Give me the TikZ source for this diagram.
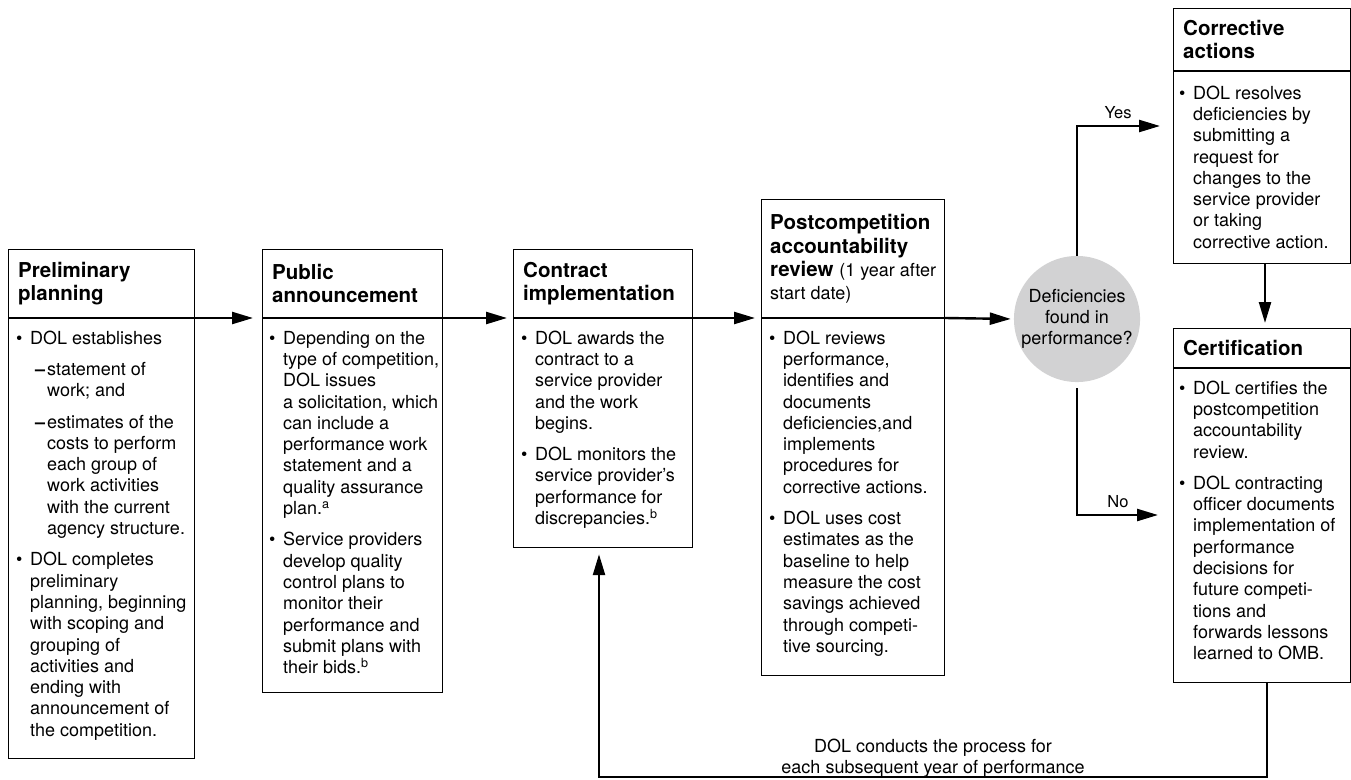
\documentclass[tikz,border=0pt]{standalone}
\usepackage{fontspec}
\setmainfont{TeX Gyre Heros}
\usetikzlibrary{arrows.meta}
\newcommand{\bfs}{\fontsize{18}{21.3}\selectfont}
\newcommand{\tfs}{\fontsize{20.5}{23.3}\selectfont}
\newcommand{\lfs}{\fontsize{16.5}{19}\selectfont}
\newcommand{\bul}{\strut\makebox[14pt][l]{\textbullet}}
\newcommand{\ind}{\hspace*{14pt}}
\newcommand{\dsh}{\hspace*{19pt}\makebox[12pt][l]{\textbf{–}}}
\newcommand{\dind}{\hspace*{31pt}}
\definecolor{circfill}{RGB}{210,210,211}
\tikzset{
 boxst/.style={draw, line width=1.2pt, anchor=north west, inner sep=0pt},
 ttl/.style={anchor=west, align=left, inner sep=0pt, font=\tfs\bfseries},
 body/.style={anchor=north west, align=left, inner sep=0pt, font=\bfs},
 septhick/.style={line width=2.4pt},
 septhin/.style={line width=1.6pt},
 conn/.style={line width=2.4pt, -{Triangle[length=21pt,width=12pt]}},
 lbl/.style={font=\lfs, inner sep=0pt}
}
\begin{document}
\begin{tikzpicture}[x=1pt,y=-1pt]
\useasboundingbox (0,0) rectangle (1351,779);
\coordinate (ml) at (0,318);
\coordinate (yes) at (0,126);
\coordinate (no) at (0,515);
\coordinate (dn) at (1265,0);
\coordinate (fbx) at (1267,0);
\coordinate (bot) at (0,777);
\coordinate (upx) at (599,0);

% boxes
\node[boxst, minimum width=186pt, minimum height=509pt] (b1) at (8,249) {};
\node[boxst, minimum width=180pt, minimum height=443pt] (b2) at (262,249) {};
\node[boxst, minimum width=179pt, minimum height=298pt] (b3) at (513,249) {};
\node[boxst, minimum width=183pt, minimum height=476pt] (b4) at (761,199) {};
\node[boxst, minimum width=177pt, minimum height=255pt] (c5) at (1173,8) {};
\node[boxst, minimum width=177pt, minimum height=354pt] (c6) at (1173,328) {};

% separators
\draw[septhick] (b1.west |- ml) -- (b1.east |- ml);
\draw[septhick] (b2.west |- ml) -- (b2.east |- ml);
\draw[septhick] (b3.west |- ml) -- (b3.east |- ml);
\draw[septhick] (b4.west |- ml) -- (b4.east |- ml);
\coordinate (s5) at (0,71);
\coordinate (s6) at (0,368);
\draw[septhin] (c5.west |- s5) -- (c5.east |- s5);
\draw[septhin] (c6.west |- s6) -- (c6.east |- s6);

% titles
\node[ttl] (t1) at (18,283.5) {Preliminary\\planning};
\node[ttl] (t2) at (272,283.5) {Public\\announcement};
\node[ttl] (t3) at (523,283.5) {Contract\\implementation};
\node[ttl] (t4) at (770,259) {Postcompetition\\accountability\\review {\mdseries\bfs(1 year after}\\{\mdseries\bfs start date)}};
\node[ttl] (t5) at (1183,39.5) {Corrective\\actions};
\node[ttl] (t6) at (1183,348) {Certification};

% bodies
\node[body] (x1) at (16,329) {\bul DOL establishes\\[10pt]
\dsh statement of\\
\dind work; and\\[10pt]
\dsh estimates of the\\
\dind costs to perform\\
\dind each group of\\
\dind work activities\\
\dind with the current\\
\dind agency structure.\\[10pt]
\bul DOL completes\\
\ind preliminary\\
\ind planning, beginning\\
\ind with scoping and\\
\ind grouping of\\
\ind activities and\\
\ind ending with\\
\ind announcement of\\
\ind the competition.};

\node[body] (x2) at (269,329) {\bul Depending on the\\
\ind type of competition,\\
\ind DOL issues\\
\ind a solicitation, which\\
\ind can include a\\
\ind performance work\\
\ind statement and a\\
\ind quality assurance\\
\ind plan.\textsuperscript{a}\\[10pt]
\bul Service providers\\
\ind develop quality\\
\ind control plans to\\
\ind monitor their\\
\ind performance and\\
\ind submit plans with\\
\ind their bids.\textsuperscript{b}};

\node[body] (x3) at (521,329) {\bul DOL awards the\\
\ind contract to a\\
\ind service provider\\
\ind and the work\\
\ind begins.\\[10pt]
\bul DOL monitors the\\
\ind service provider’s\\
\ind performance for\\
\ind discrepancies.\textsuperscript{b}};

\node[body] (x4) at (769,329) {\bul DOL reviews\\
\ind performance,\\
\ind identifies and\\
\ind documents\\
\ind deficiencies,and\\
\ind implements\\
\ind procedures for\\
\ind corrective actions.\\[10pt]
\bul DOL uses cost\\
\ind estimates as the\\
\ind baseline to help\\
\ind measure the cost\\
\ind savings achieved\\
\ind through competi-\\
\ind tive sourcing.};

\node[body] (x5) at (1179,84) {\bul DOL resolves\\
\ind deficiencies by\\
\ind submitting a\\
\ind request for\\
\ind changes to the\\
\ind service provider\\
\ind or taking\\
\ind corrective action.};

\node[body] (x6) at (1179,379) {\bul DOL certifies the\\
\ind postcompetition\\
\ind accountability\\
\ind review.\\[10pt]
\bul DOL contracting\\
\ind officer documents\\
\ind implementation of\\
\ind performance\\
\ind decisions for\\
\ind future competi-\\
\ind tions and\\
\ind forwards lessons\\
\ind learned to OMB.};

% decision
\node[circle, fill=circfill, minimum size=126pt, inner sep=0pt, align=center, font=\bfs] (q) at (1077,319) {Deficiencies\\found in\\performance?};

% connectors
\draw[conn, shorten >=9pt] (b1.east |- ml) -- (b2.west |- ml);
\draw[conn, shorten >=6pt] (b2.east |- ml) -- (b3.west |- ml);
\draw[conn, shorten >=6pt] (b3.east |- ml) -- (b4.west |- ml);
\draw[conn, shorten >=3pt] (b4.east |- ml) -- (q.west);
\draw[conn, shorten >=13pt] (q.north) -- (q.north |- yes) -- (c5.west |- yes);
\draw[conn, shorten <=6pt, shorten >=15pt] (q.south) -- (q.south |- no) -- (c6.west |- no);
\draw[conn, shorten >=5pt] (c5.south -| dn) -- (c6.north -| dn);
\draw[conn, shorten >=6pt] (c6.south -| fbx) -- (fbx |- bot) -- (upx |- bot) -- (b3.south -| upx);

% labels
\node[lbl] (ly) at (1118,113) {Yes};
\node[lbl] (ln) at (1118,502) {No};
\node[font=\bfs, align=center, inner sep=0pt] (fbl) at (933,758) {DOL conducts the process for\\each subsequent year of performance};
\end{tikzpicture}
\end{document}
